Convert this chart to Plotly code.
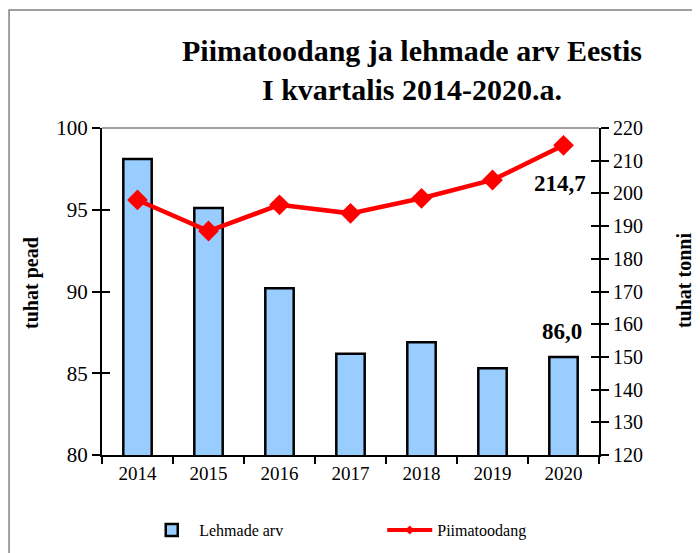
import plotly.graph_objects as go

years = ["2014", "2015", "2016", "2017", "2018", "2019", "2020"]
cows = [98.1, 95.1, 90.2, 86.2, 86.9, 85.3, 86.0]          # tuhat pead
milk = [198.0, 188.5, 196.5, 193.9, 198.5, 204.1, 214.7]   # tuhat tonni

left_ticks = [80, 85, 90, 95, 100]
right_ticks = [120, 130, 140, 150, 160, 170, 180, 190, 200, 210, 220]

FONT = "Liberation Serif, Times New Roman, serif"
last = len(years) - 1

fig = go.Figure()
fig.add_trace(go.Bar(
    x=years, y=cows, name="Lehmade arv",
    marker=dict(color="#99CCFF", line=dict(color="black", width=2.5)),
    width=0.4, yaxis="y",
))
fig.add_trace(go.Scatter(
    x=years, y=milk, name="Piimatoodang", mode="lines+markers",
    line=dict(color="#FF0000", width=4.5),
    marker=dict(symbol="diamond", size=16, color="#FF0000"),
    yaxis="y2", showlegend=False,
))
# legend-only entry with the small marker used in the original legend
fig.add_trace(go.Scatter(
    x=[None], y=[None], name="Piimatoodang", mode="lines+markers",
    line=dict(color="#FF0000", width=4), yaxis="y2",
    marker=dict(symbol="diamond", size=7, color="#FF0000"),
))
# invisible helpers so inner tick marks are drawn
fig.add_trace(go.Scatter(x=years, y=cows, yaxis="y3", mode="markers",
                         marker=dict(opacity=0), showlegend=False, hoverinfo="skip"))
fig.add_trace(go.Scatter(x=years, y=milk, yaxis="y4", mode="markers",
                         marker=dict(opacity=0), showlegend=False, hoverinfo="skip"))

fig.add_annotation(x=last, xref="x", y=milk[last], yref="y2",
                   text="<b>" + f"{milk[last]:.1f}".replace(".", ",") + "</b>",
                   showarrow=False, xshift=-4, yshift=-38,
                   font=dict(family=FONT, size=23, color="black"))
fig.add_annotation(x=last, xref="x", y=cows[last], yref="y",
                   text="<b>" + f"{cows[last]:.1f}".replace(".", ",") + "</b>",
                   showarrow=False, xshift=-2, yshift=25,
                   font=dict(family=FONT, size=23, color="black"))

fig.add_annotation(xref="paper", yref="paper", x=-0.141, y=0.526, xanchor="center",
                   text="<b>tuhat pead</b>", textangle=-90, showarrow=False,
                   font=dict(family=FONT, size=20, color="black"))
fig.add_annotation(xref="paper", yref="paper", x=1.171, y=0.535, xanchor="center",
                   text="<b>tuhat tonni</b>", textangle=-90, showarrow=False,
                   font=dict(family=FONT, size=20, color="black"))

# top border of plot area and outer chart frame
fig.add_shape(type="line", xref="paper", yref="paper", x0=0, x1=1, y0=1, y1=1,
              line=dict(color="#808080", width=1.5))
fig.add_shape(type="rect", xref="paper", yref="paper", x0=-0.187, x1=1.5,
              y0=-1, y1=1.361, line=dict(color="#808080", width=1.5))

fig.update_layout(
    width=692, height=545,
    margin=dict(l=94, r=101, t=120, b=98),
    paper_bgcolor="white", plot_bgcolor="white",
    font=dict(family=FONT, color="black"),
    title=dict(text="<b>Piimatoodang ja lehmade arv Eestis<br>I kvartalis 2014-2020.a.</b>",
               x=0.5838, xanchor="center", y=0.902, yanchor="middle",
               font=dict(family=FONT, size=30, color="black")),
    showlegend=True,
    legend=dict(orientation="h", xref="paper", x=0.085, xanchor="left",
                yref="container", y=0.042, yanchor="middle",
                entrywidth=178, entrywidthmode="pixels",
                font=dict(family=FONT, size=16, color="black"), itemwidth=45),
    bargap=0.6,
    xaxis=dict(type="category", range=[-0.5, 6.5], showline=True, linecolor="black",
               linewidth=2, ticks="outside", ticklen=7, tickwidth=1.5, tickcolor="black",
               tickson="boundaries", showgrid=False, tickangle=0, automargin=False,
               tickfont=dict(family=FONT, size=19, color="black")),
    yaxis=dict(range=[80, 100], tickvals=left_ticks, showline=True, linecolor="black",
               linewidth=2, ticks="outside", ticklen=8, tickwidth=1.5, tickcolor="black",
               showgrid=False, zeroline=False, automargin=False,
               tickfont=dict(family=FONT, size=21, color="black")),
    yaxis2=dict(range=[120, 220], tickvals=right_ticks, overlaying="y", side="right",
                showline=True, linecolor="black", linewidth=2, ticks="outside",
                ticklen=8, tickwidth=1.5, tickcolor="black", showgrid=False,
                zeroline=False, automargin=False,
                tickfont=dict(family=FONT, size=20, color="black")),
    yaxis3=dict(range=[80, 100], tickvals=left_ticks, overlaying="y", side="left",
                showline=False, ticks="inside", ticklen=8, tickwidth=1.5, automargin=False,
                tickcolor="black", showticklabels=False, showgrid=False, zeroline=False),
    yaxis4=dict(range=[120, 220], tickvals=right_ticks, overlaying="y", side="right",
                showline=False, ticks="inside", ticklen=8, tickwidth=1.5, automargin=False,
                tickcolor="black", showticklabels=False, showgrid=False, zeroline=False),
)

fig.write_html("out.html")
